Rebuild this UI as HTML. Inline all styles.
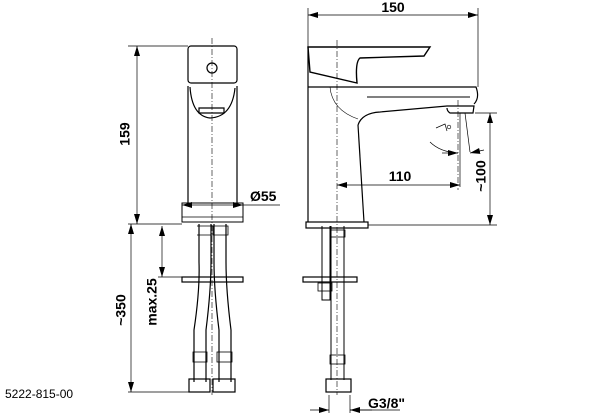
<!DOCTYPE html>
<html><head><style>html,body{margin:0;padding:0;background:#fff;width:614px;height:415px;overflow:hidden}</style></head>
<body>
<svg width="614" height="415" viewBox="0 0 614 415" xmlns="http://www.w3.org/2000/svg" font-family="Liberation Sans, sans-serif" font-weight="bold">
<defs>
<marker id="a" viewBox="0 0 10 6" refX="10" refY="3" markerWidth="10" markerHeight="6" orient="auto-start-reverse" markerUnits="userSpaceOnUse"><path d="M0,0L10,3L0,6z" fill="#000"/></marker>
</defs>
<g stroke="#000" fill="none" stroke-width="1.2">
<rect x="188" y="46" width="49" height="37" rx="3"/>
<circle cx="212" cy="68" r="5"/>
<path d="M188,86 V203 M237,86 V203"/>
<path d="M190,87 Q192,116 210,118 Q232,117 235,88"/>
<path d="M199,108 H224 V113 H199z"/>
<rect x="182" y="203" width="61" height="19" stroke-width="1"/>
<path d="M182,217 H243" stroke-width="0.8"/>
<path d="M199,224 V262 Q200,290 194,330 V382 M211,224 V262 Q211,290 206,330 V382"/>
<path d="M214,224 V262 Q214,290 219,330 V382 M226,224 V262 Q226,290 231,330 V382"/>
<path d="M197,226 H213 V235 H197 M212,226 H228 V235 H212" stroke-width="0.8"/>
<rect x="193" y="352" width="14" height="10" stroke-width="0.8"/>
<rect x="217" y="352" width="15" height="10" stroke-width="0.8"/>
<rect x="189" y="379" width="21" height="13"/>
<rect x="213" y="379" width="22" height="13"/>
<rect x="182" y="277" width="61" height="5"/>
<path d="M308,47 H430 L424,56 L360,58 Q355,62 357,83 L310,72 Z" stroke-width="1.4"/>
<path d="M308,47 V222"/>
<path d="M308,87 H476 Q480,98 474,104"/>
<path d="M367,97 H470" stroke-width="1"/>
<path d="M358,125 Q362,113 380,112 L447,106 H474 L473,113 H450 Q447,111 447,108"/>
<path d="M358,125 L364,222"/>
<path d="M330,87 Q332,110 358,119" stroke-width="0.6"/>
<rect x="306" y="222" width="62" height="6"/>
<path d="M322,226 V300 H330 V226 M331,226 V380 M344,226 V380" stroke-width="1"/>
<rect x="330" y="230" width="15" height="7" stroke-width="0.8"/>
<rect x="330" y="355" width="15" height="9" stroke-width="0.8"/>
<rect x="318" y="283" width="14" height="8" stroke-width="0.8"/>
<rect x="303" y="277" width="54" height="5"/>
<rect x="326" y="379" width="25" height="13"/>
</g>
<g stroke="#000" stroke-width="0.6" stroke-dasharray="6,2,1,2" fill="none">
<path d="M212,38 V395"/>
<path d="M337,40 V395"/>
<path d="M458,100 V190"/>
</g>
<g stroke="#000" stroke-width="0.7" fill="none">
<path d="M128,46 H188 M128,224 H182 M128,392 H189 M158,277 H182 M308,8 V47 M478,8 V87 M475,113 H497 M368,225 H497 M329,395 V413 M350,395 V413"/>
<path d="M137,46 V224" marker-start="url(#a)" marker-end="url(#a)"/>
<path d="M131,224 V392" marker-start="url(#a)" marker-end="url(#a)"/>
<path d="M162,226 V277" marker-start="url(#a)" marker-end="url(#a)"/>
<path d="M182,205 H243" marker-start="url(#a)" marker-end="url(#a)"/>
<path d="M243,205 H280"/>
<path d="M308,15 H478" marker-start="url(#a)" marker-end="url(#a)"/>
<path d="M490,113 V225" marker-start="url(#a)" marker-end="url(#a)"/>
<path d="M337,185 H460" marker-start="url(#a)" marker-end="url(#a)"/>
<path d="M460,113 V187 M465,113 L470,152"/>
<path d="M430,142 Q440,152 458,153" />
<path d="M310,410 H329" marker-end="url(#a)"/>
<path d="M372,410 H350" marker-end="url(#a)"/>
<path d="M350,410 H400"/>
<path d="M442,153 L458,153" marker-end="url(#a)"/>
<path d="M484,150 L470,153" marker-end="url(#a)"/>
<path d="M436,128 L445,124 L447,131"/>
</g>
<circle cx="449" cy="127" r="1.8" stroke="#000" stroke-width="0.6" fill="none"/>
<g font-size="14" fill="#000">
<text x="126" y="134" transform="rotate(-90 126 134)" text-anchor="middle" dominant-baseline="middle">159</text>
<text x="122" y="310" transform="rotate(-90 122 310)" text-anchor="middle" dominant-baseline="middle">~350</text>
<text x="153" y="302" transform="rotate(-90 153 302)" text-anchor="middle" dominant-baseline="middle">max.25</text>
<text x="250" y="201">Ø55</text>
<text x="393" y="12" text-anchor="middle">150</text>
<text x="400" y="181" text-anchor="middle">110</text>
<text x="482" y="176" transform="rotate(-90 482 176)" text-anchor="middle" dominant-baseline="middle">~100</text>
<text x="368" y="408">G3/8"</text>
<text x="5" y="398" font-weight="normal" font-size="12">5222-815-00</text>
</g>
</svg>
</body></html>
